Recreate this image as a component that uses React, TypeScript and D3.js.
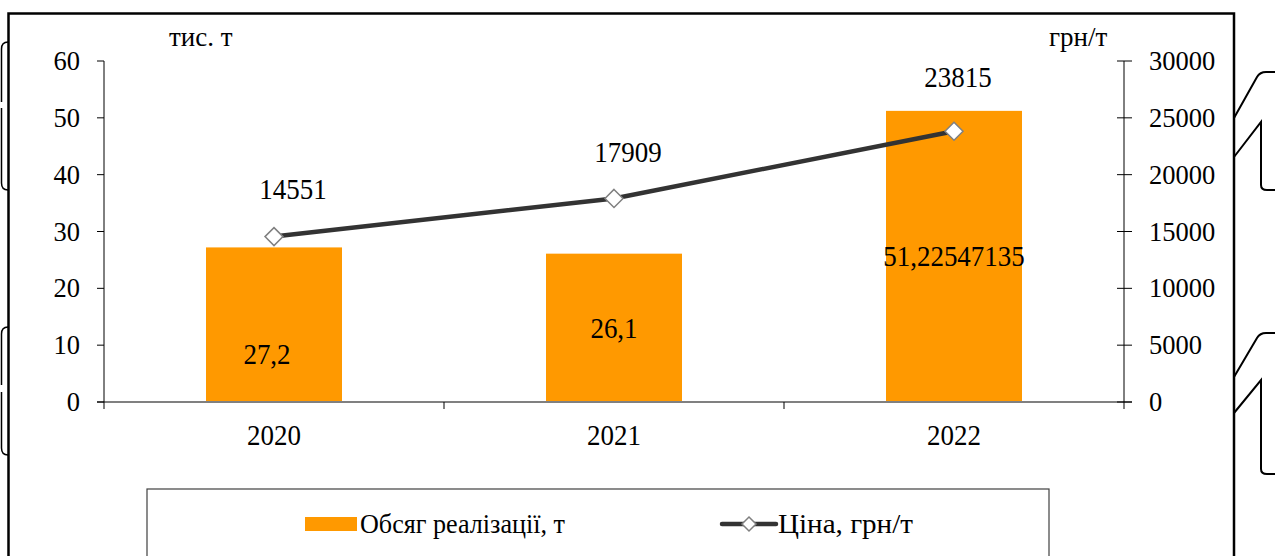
import React from "react";
import * as d3 from "d3";

const categories = ["2020", "2021", "2022"];
const volume = [27.2, 26.1, 51.22547135];
const volumeLabels = ["27,2", "26,1", "51,22547135"];
const price = [14551, 17909, 23815];
const leftTicks = [0, 10, 20, 30, 40, 50, 60];
const rightTicks = [0, 5000, 10000, 15000, 20000, 25000, 30000];
const seriesNames = ["Обсяг реалізації, т", "Ціна, грн/т"];

// layout nudges for labels (pixels)
const priceLabelDx = [19, 14, 4];
const priceLabelDy = [-38, -36, -44];
const volumeLabelDx = [-7, 0, 0];
const volumeLabelDy = [39, 10, 10];

const W = 1275;
const H = 556;
const plotLeft = 104;
const plotRight = 1124;
const plotTop = 61;
const plotBottom = 402;
const FONT = "Liberation Serif, Times New Roman, DejaVu Serif, serif";
const ORANGE = "#FF9900";
const LINE = "#333333";

function Label({ x, y, text, size = 29, sx = 0.93, anchor = "middle" }: { x: number; y: number; text: string | number; size?: number; sx?: number; anchor?: string }) {
  return (
    <text
      transform={`translate(${x},${y}) scale(${sx},1)`}
      textAnchor={anchor as any}
      fontSize={size}
      fill="#000"
      style={{ fontFamily: FONT }}
    >
      {text}
    </text>
  );
}

export default function App() {
  const x = d3.scaleBand<string>().domain(categories).range([plotLeft, plotRight]).paddingInner(0).paddingOuter(0);
  const yL = d3.scaleLinear().domain([0, 60]).range([plotBottom, plotTop]);
  const yR = d3.scaleLinear().domain([0, 30000]).range([plotBottom, plotTop]);
  const bw = x.bandwidth() * 0.4;
  const cx = (c: string) => (x(c) as number) + x.bandwidth() / 2;

  const line = d3
    .line<number>()
    .x((_, i) => cx(categories[i]))
    .y((d) => yR(d));

  const diamond = (px: number, py: number, r: number) =>
    `M${px},${py - r}L${px + r},${py}L${px},${py + r}L${px - r},${py}Z`;

  const boundaries = categories.slice(1).map((c) => x(c) as number);
  const ts: React.CSSProperties = { fontFamily: FONT };

  return (
    <svg
      width={W}
      height={H}
      style={{ position: "absolute", left: 0, top: 0, background: "#fff", fontFamily: FONT }}
    >
      <rect x={0} y={0} width={W} height={H} fill="#fff" />
      {/* outer frame */}
      <path d={`M8.5,${H + 5}L8.5,13.5L1234,13.5L1234,${H + 5}`} fill="none" stroke="#000" strokeWidth={2.5} />
      {/* left decorations */}
      <g fill="none" stroke="#000" strokeWidth={1.5}>
        <path d="M8,42 Q1.5,42 1.5,49 L1.5,102" />
        <path d="M1.5,108 L1.5,183 Q1.5,190 8,190" />
        <path d="M8,327 Q1.5,327 1.5,334 L1.5,385" />
        <path d="M1.5,392 L1.5,448 Q1.5,455 8,455" />
      </g>
      {/* right decorations */}
      <g fill="none" stroke="#000" strokeWidth={2}>
        <path d="M1234,118 L1257,77 Q1260,72 1266,72 L1276,72" />
        <path d="M1234,157 L1261,122 L1261,185 Q1261,190 1267,190 L1276,190" />
        <path d="M1234,377 L1257,338 Q1260,333 1266,333 L1276,333" />
        <path d="M1234,413 L1261,380 L1261,469 Q1261,474 1267,474 L1276,474" />
      </g>

      {/* bars */}
      {categories.map((c, i) => (
        <rect
          key={c}
          x={cx(c) - bw / 2}
          y={yL(volume[i])}
          width={bw}
          height={plotBottom - yL(volume[i])}
          fill={ORANGE}
        />
      ))}

      {/* x axis */}
      <line x1={97} x2={1132} y1={plotBottom} y2={plotBottom} stroke="#808080" strokeWidth={2} />
      {boundaries.map((b, i) => (
        <line key={i} x1={b} x2={b} y1={plotBottom} y2={plotBottom + 7} stroke="#000" strokeWidth={1} />
      ))}
      {categories.map((c) => (
        <Label key={c} x={cx(c)} y={445} text={c} />
      ))}

      {/* left axis */}
      <line x1={plotLeft} x2={plotLeft} y1={plotTop} y2={plotBottom + 7} stroke="#000" strokeWidth={1} />
      {leftTicks.map((t) => (
        <g key={t}>
          <line x1={97} x2={plotLeft} y1={yL(t)} y2={yL(t)} stroke="#000" strokeWidth={1} />
          <text x={80} y={yL(t) + 9} textAnchor="end" fontSize={26.5} fill="#000" style={ts}>
            {t}
          </text>
        </g>
      ))}
      <text x={169} y={46} fontSize={27} fill="#000" style={ts}>тис. т</text>

      {/* right axis */}
      <line x1={plotRight} x2={plotRight} y1={plotTop} y2={plotBottom + 7} stroke="#000" strokeWidth={1} />
      {rightTicks.map((t) => (
        <g key={t}>
          <line x1={1117} x2={1132} y1={yR(t)} y2={yR(t)} stroke="#000" strokeWidth={1} />
          <text x={1149} y={yR(t) + 9} textAnchor="start" fontSize={26.5} fill="#000" style={ts}>
            {t}
          </text>
        </g>
      ))}
      <text x={1049} y={46} fontSize={27} fill="#000" style={ts}>грн/т</text>

      {/* price line */}
      <path d={line(price) || ""} fill="none" stroke={LINE} strokeWidth={4.5} strokeLinejoin="round" />
      {price.map((p, i) => (
        <path
          key={i}
          d={diamond(cx(categories[i]), yR(p), 9)}
          fill="#fff"
          stroke="#808080"
          strokeWidth={1.5}
        />
      ))}

      {/* data labels */}
      {price.map((p, i) => (
        <Label key={i} x={cx(categories[i]) + priceLabelDx[i]} y={yR(p) + priceLabelDy[i]} text={p} />
      ))}
      {volume.map((v, i) => (
        <Label
          key={i}
          x={cx(categories[i]) + volumeLabelDx[i]}
          y={(yL(v) + plotBottom) / 2 + volumeLabelDy[i]}
          text={volumeLabels[i]}
        />
      ))}

      {/* legend */}
      <rect x={147} y={489} width={902} height={100} fill="#fff" stroke="#404040" strokeWidth={1.2} />
      <rect x={305} y={517} width={52} height={14} fill={ORANGE} />
      <text x={360} y={533} fontSize={28} fill="#000" textLength={205} lengthAdjust="spacingAndGlyphs" style={ts}>
        {seriesNames[0]}
      </text>
      <line x1={722} x2={776} y1={524} y2={524} stroke={LINE} strokeWidth={4.5} strokeLinecap="round" />
      <path d={diamond(749, 524, 7)} fill="#fff" stroke="#808080" strokeWidth={1.5} />
      <text x={778} y={533} fontSize={28} fill="#000" textLength={135} lengthAdjust="spacingAndGlyphs" style={ts}>
        {seriesNames[1]}
      </text>
    </svg>
  );
}
